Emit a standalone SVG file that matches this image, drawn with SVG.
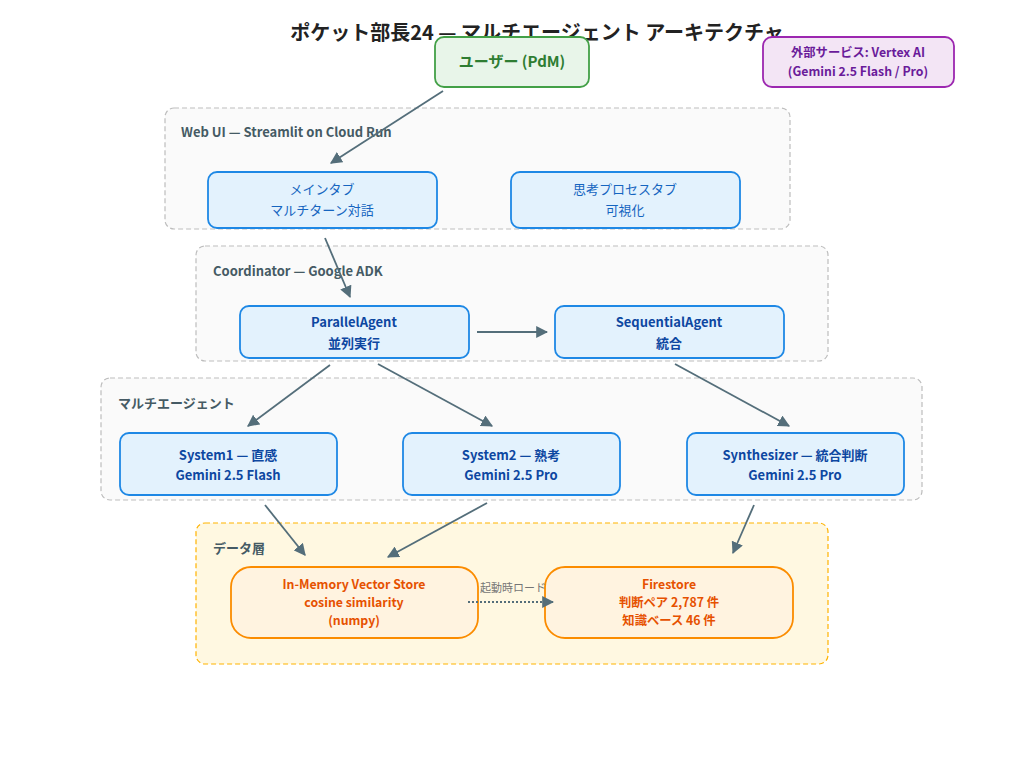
<svg xmlns="http://www.w3.org/2000/svg" width="1024" height="772" viewBox="0 0 1024 772">
<defs>
<marker id="ahb" viewBox="0 0 10 10" refX="9" refY="5" markerWidth="12" markerHeight="12" markerUnits="userSpaceOnUse" orient="auto">
<path d="M0,0 L10,5 L0,10 z" fill="#546e7a"/>
</marker>
</defs>
<style>
text{font-family:"Noto Sans CJK JP","Noto Sans",sans-serif;}
.title{font-size:20px;font-weight:bold;fill:#222;}
.cl{fill:#fafafa;stroke:#bdbdbd;stroke-width:1.2;stroke-dasharray:5,3;}
.cll{font-size:13px;font-weight:bold;fill:#455a64;}
.bn{fill:#e3f2fd;stroke:#1e88e5;stroke-width:1.8;}
.bt{font-size:13px;font-weight:bold;fill:#0d47a1;text-anchor:middle;}
.bt2{font-size:13px;fill:#1565c0;text-anchor:middle;}
.on{fill:#fff3e0;stroke:#fb8c00;stroke-width:1.8;}
.ot{font-size:12.3px;font-weight:bold;fill:#e65100;text-anchor:middle;}
.e{fill:none;stroke:#546e7a;stroke-width:1.8;marker-end:url(#ahb);}
</style>
<rect width="1024" height="772" fill="#ffffff"/>
<text class="title" x="537" y="40" text-anchor="middle">ポケット部長24 — マルチエージェント アーキテクチャ</text>

<g id="cluster-webui">
<rect class="cl" x="165" y="108" width="625" height="121" rx="9"/>
<text class="cll" x="181" y="137">Web UI — Streamlit on Cloud Run</text>
</g>
<g id="cluster-coordinator">
<rect class="cl" x="196" y="246" width="632" height="115" rx="9"/>
<text class="cll" x="213" y="276">Coordinator — Google ADK</text>
</g>
<g id="cluster-multiagent">
<rect class="cl" x="101" y="378" width="821" height="122" rx="9"/>
<text class="cll" x="118" y="408">マルチエージェント</text>
</g>
<g id="cluster-data">
<rect x="196" y="523" width="632" height="141" rx="9" fill="#fff8e1" stroke="#ffb300" stroke-width="1.2" stroke-dasharray="5,3"/>
<text class="cll" x="213" y="553">データ層</text>
</g>

<g id="user">
<rect x="435" y="37" width="154" height="50" rx="9" fill="#e8f5e9" stroke="#43a047" stroke-width="1.8"/>
<text x="512" y="67" text-anchor="middle" font-size="15" font-weight="bold" fill="#2e7d32">ユーザー (PdM)</text>
</g>
<g id="vertex">
<rect x="763" y="37" width="191" height="50" rx="9" fill="#f3e5f5" stroke="#9c27b0" stroke-width="1.8"/>
<text x="858" y="57" text-anchor="middle" font-size="12.3" font-weight="bold" fill="#6a1b9a">外部サービス: Vertex AI</text>
<text x="858" y="76" text-anchor="middle" font-size="12.3" font-weight="bold" fill="#6a1b9a">(Gemini 2.5 Flash / Pro)</text>
</g>

<g id="maintab">
<rect class="bn" x="208" y="172" width="229" height="56" rx="9"/>
<text class="bt2" x="322" y="194">メインタブ</text>
<text class="bt2" x="322" y="215">マルチターン対話</text>
</g>
<g id="thinktab">
<rect class="bn" x="511" y="172" width="229" height="56" rx="9"/>
<text class="bt2" x="625" y="194">思考プロセスタブ</text>
<text class="bt2" x="625" y="215">可視化</text>
</g>
<g id="parallel">
<rect class="bn" x="240" y="306" width="229" height="52" rx="9"/>
<text class="bt" x="354" y="327">ParallelAgent</text>
<text class="bt" x="354" y="348">並列実行</text>
</g>
<g id="sequential">
<rect class="bn" x="555" y="306" width="229" height="52" rx="9"/>
<text class="bt" x="669" y="327">SequentialAgent</text>
<text class="bt" x="669" y="348">統合</text>
</g>
<g id="system1">
<rect class="bn" x="120" y="433" width="217" height="62" rx="9"/>
<text class="bt" x="228" y="460">System1 — 直感</text>
<text class="bt" x="228" y="480">Gemini 2.5 Flash</text>
</g>
<g id="system2">
<rect class="bn" x="403" y="433" width="217" height="62" rx="9"/>
<text class="bt" x="511" y="460">System2 — 熟考</text>
<text class="bt" x="511" y="480">Gemini 2.5 Pro</text>
</g>
<g id="synth">
<rect class="bn" x="687" y="433" width="217" height="62" rx="9"/>
<text class="bt" x="795" y="460">Synthesizer — 統合判断</text>
<text class="bt" x="795" y="480">Gemini 2.5 Pro</text>
</g>
<g id="vector">
<rect class="on" x="231" y="567" width="247" height="71" rx="20"/>
<text class="ot" x="354" y="589">In-Memory Vector Store</text>
<text class="ot" x="354" y="607">cosine similarity</text>
<text class="ot" x="354" y="625">(numpy)</text>
</g>
<g id="firestore">
<rect class="on" x="545" y="567" width="248" height="71" rx="20"/>
<text class="ot" x="669" y="589">Firestore</text>
<text class="ot" x="669" y="607">判断ペア 2,787 件</text>
<text class="ot" x="669" y="625">知識ベース 46 件</text>
</g>

<g id="connectors">
<path class="e" d="M443,91 L331,163"/>
<path class="e" d="M325,238 L350,297"/>
<path class="e" d="M477,332 L547,332"/>
<path class="e" d="M330,365 L248,426"/>
<path class="e" d="M378,364 L492,426"/>
<path class="e" d="M675,364 L789,426"/>
<path class="e" d="M265,505 L305,555"/>
<path class="e" d="M487,503 L388,557"/>
<path class="e" d="M754,505 L733,553"/>
<path d="M468,602 L553,602" fill="none" stroke="#546e7a" stroke-width="1.8" stroke-dasharray="2,2" marker-end="url(#ahb)"/>
<text x="513" y="592" text-anchor="middle" font-size="11" fill="#757575">起動時ロード</text>
</g>
</svg>
